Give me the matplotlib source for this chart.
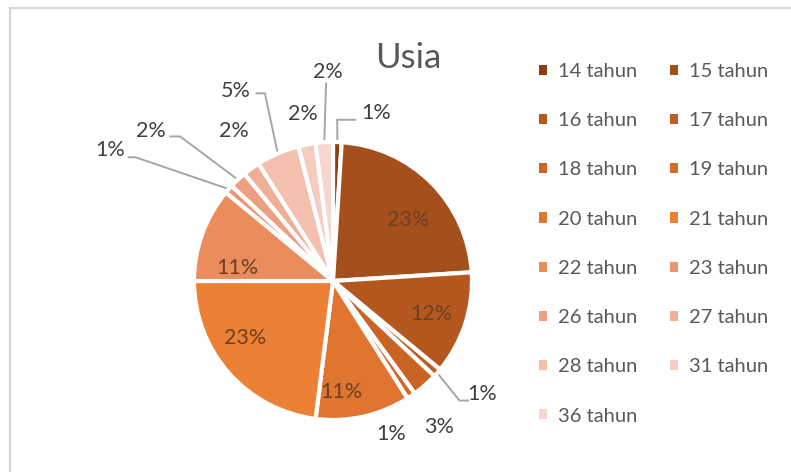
import numpy as np
import matplotlib.pyplot as plt
from matplotlib.patches import Patch
from matplotlib.lines import Line2D

plt.rcParams['font.family'] = ['Lato', 'DejaVu Sans']

# données
kategori = ["14 tahun", "15 tahun", "16 tahun", "17 tahun", "18 tahun", "19 tahun",
            "20 tahun", "21 tahun", "22 tahun", "23 tahun", "26 tahun", "27 tahun",
            "28 tahun", "31 tahun", "36 tahun"]
persen = [1, 23, 12, 1, 3, 1, 11, 23, 11, 1, 2, 2, 5, 2, 2]
warna = ["#8B3E10", "#A5501C", "#B5581F", "#BE5E22", "#C96424", "#D46A28",
         "#DF752E", "#EC8034", "#EB8C5C", "#EC9571", "#EE9F82", "#F0AE97",
         "#F4C0AE", "#F6CBC0", "#F8D5CF"]

# position des étiquettes (coordonnées du camembert, rayon 1)
pos_label = [(0.31, 1.21), (0.54, 0.44), (0.71, -0.24), (1.07, -0.81), (0.76, -1.05),
             (0.42, -1.10), (0.06, -0.80), (-0.63, -0.41), (-0.69, 0.09), (-1.60, 0.94),
             (-1.31, 1.08), (-0.71, 1.08), (-0.70, 1.37), (-0.22, 1.20), (-0.04, 1.50)]
# lignes de rappel : index -> (coude, fin)
rappel = {
    0: ((0.03, 1.16), (0.16, 1.16)),
    3: ((0.91, -0.86), (0.97, -0.86)),
    9: ((-1.42, 0.89), (-1.47, 0.89)),
    10: ((-1.10, 1.04), (-1.17, 1.04)),
    12: ((-0.49, 1.35), (-0.55, 1.35)),
    14: ((-0.05, 1.42), (-0.05, 1.42)),
}
dalam = [1, 2, 6, 7, 8]

W, H = 791, 472
fig = plt.figure(figsize=(W / 100, H / 100), dpi=100)
ax = fig.add_axes([0, 0, 1, 1])

cx, cy, R = 333, 281, 139
wedges, _ = ax.pie(persen, colors=warna, startangle=90, counterclock=False,
                   wedgeprops=dict(edgecolor='white', linewidth=3))
ax.set_xlim(-cx / R, (W - cx) / R)
ax.set_ylim(-(H - cy) / R, cy / R)
ax.set_aspect('equal')
ax.axis('off')

for i, w in enumerate(wedges):
    teks = f"{persen[i]}%"
    lx, ly = pos_label[i]
    if i in dalam:
        ax.text(lx, ly, teks, ha='center', va='center', fontsize=15.5, color='#6B3F22')
    else:
        ax.text(lx, ly, teks, ha='center', va='center', fontsize=15.5, color='#404040')
    if i in rappel:
        ang = np.deg2rad((w.theta1 + w.theta2) / 2)
        sx, sy = np.cos(ang), np.sin(ang)
        (ex, ey), (fx, fy) = rappel[i]
        ax.plot([sx, ex, fx], [sy, ey, fy], color='#A6A6A6', lw=1.4, zorder=0.5)

fig.text(408 / W, 1 - 58 / H, "Usia", ha='center', va='center', fontsize=25, color='#595959')

# légende rangée par lignes (2 colonnes)
handles = [Patch(facecolor=c, edgecolor='none') for c in warna]
urut = list(range(0, len(kategori), 2)) + list(range(1, len(kategori), 2))
ax.legend([handles[i] for i in urut], [kategori[i] for i in urut], ncol=2,
          loc='upper left', bbox_to_anchor=(539 / W, 1 - 63 / H), bbox_transform=fig.transFigure,
          frameon=False, fontsize=14.5, labelcolor='#595959', handlelength=0.4,
          handleheight=0.4, handletextpad=0.55, labelspacing=1.6, columnspacing=1.6,
          borderpad=0, borderaxespad=0)

# cadre
fig.add_artist(Line2D([10 / W, 1], [1 - 8 / H, 1 - 8 / H], transform=fig.transFigure,
                      color='#D9D9D9', lw=1.6))
fig.add_artist(Line2D([10 / W, 10 / W], [0, 1 - 8 / H], transform=fig.transFigure,
                      color='#D9D9D9', lw=1.6))

fig.savefig("out.png", dpi=100)
